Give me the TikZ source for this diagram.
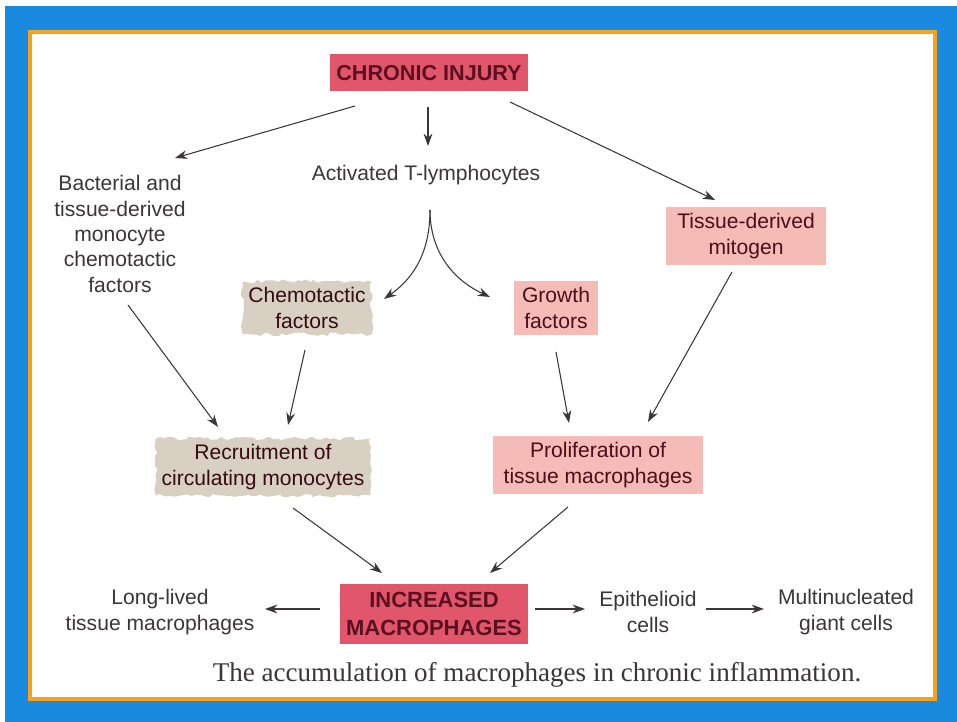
\documentclass[tikz,border=0pt]{standalone}
\usepackage{fontspec}
\setmainfont{Liberation Sans}
\newfontfamily\captionserif{Liberation Serif}
\usetikzlibrary{arrows.meta,decorations.pathmorphing}

% colours of the scan
\definecolor{frameblue}{HTML}{1A8AE0}
\definecolor{frameorange}{HTML}{F7A21B}
\definecolor{injuryred}{HTML}{E2566C}
\definecolor{softpink}{HTML}{F5BBB6}
\definecolor{ragbeige}{HTML}{D8D0C2}
\definecolor{inkgray}{HTML}{3C3636}
\definecolor{inkred}{HTML}{5A1020}

\tikzset{
  plain/.style={text=inkgray, align=center, inner sep=0pt,
    font=\fontsize{12}{14.4}\selectfont},
  redbox/.style={fill=injuryred, text=inkred, align=center,
    font=\bfseries\fontsize{12.3}{16}\selectfont},
  pinkbox/.style={fill=softpink, text=inkred!85!black, align=center,
    font=\fontsize{12}{14.6}\selectfont},
  ragbox/.style={fill=ragbeige, text=inkred!60!black, align=center,
    font=\fontsize{12}{14.6}\selectfont,
    decorate, decoration={random steps, segment length=2.5pt, amplitude=1.1pt}},
  link/.style={draw=inkgray, line width=0.6pt, -{Stealth[length=7pt,width=5pt]}},
}

\begin{document}
\begin{tikzpicture}[x={(0.02cm,0)}, y={(0,-0.02cm)}]

    % Frame: white margin, blue border, orange rule
    \useasboundingbox (0,0) rectangle (957,722);
    \fill[white] (0,0) rectangle (957,722);
    \fill[frameblue] (5,6) rectangle (957,722);
    \draw[frameorange, fill=white, line width=0.08cm] (30,32) rectangle (935,699);

    % Top row
    \node[redbox, minimum width=3.96cm, minimum height=0.74cm] (injury) at (429,73) {CHRONIC INJURY};
    \node[plain] (tcell) at (426,175) {Activated T-lymphocytes};
    \node[plain] (bact) at (120,234) {Bacterial and\\tissue-derived\\monocyte\\chemotactic\\factors};
    \node[pinkbox, minimum width=3.2cm, minimum height=1.08cm] (mitogen) at (746,236) {Tissue-derived\\mitogen};

    % Factors released by the T-cells
    \node[ragbox, minimum width=2.58cm, minimum height=1.02cm] (chemo) at (307,308) {Chemotactic\\factors};
    \node[pinkbox, minimum width=1.68cm, minimum height=1.1cm] (growth) at (556,308) {Growth\\factors};

    % Middle row
    \node[ragbox, minimum width=4.2cm, minimum height=1.08cm] (recruit) at (263,467) {Recruitment of\\circulating monocytes};
    \node[pinkbox, minimum width=4.2cm, minimum height=1.12cm] (prolif) at (598,465) {Proliferation of\\tissue macrophages};

    % Bottom row
    \node[redbox, minimum width=3.68cm, minimum height=1.2cm, font=\bfseries\fontsize{12.5}{16}\selectfont] (increased) at (434,614) {INCREASED\\MACROPHAGES};
    \node[plain] (longlived) at (160,612) {Long-lived\\tissue macrophages};
    \node[plain] (epith) at (648,612) {Epithelioid\\cells};
    \node[plain] (multi) at (846,612) {Multinucleated\\giant cells};

    % Caption
    \node[text=inkgray, font=\captionserif\fontsize{15.4}{18}\selectfont] (caption) at (537,675)
      {The accumulation of macrophages in chronic inflammation.};

    % Arrows from the injury
    \draw[link] ([shift={(-74,33)}]injury.center) -- ([shift={(55,-76)}]bact.center);
    \draw[link] ([shift={(-1,34)}]injury.center) -- ([shift={(2,-29)}]tcell.center);
    \draw[link] ([shift={(81,29)}]injury.center) -- ([shift={(-31,-36)}]mitogen.center);

    % T-cells split into two factors
    \coordinate (split) at ([shift={(4,35)}]tcell.center);
    \draw[link] (split) to[out=-90, in=35] ([shift={(77,-9)}]chemo.center);
    \draw[link] (split) to[out=-90, in=155] ([shift={(-66,-11)}]growth.center);

    % Down to recruitment and proliferation
    \draw[link] ([shift={(8,71)}]bact.center) -- ([shift={(-45,-40)}]recruit.center);
    \draw[link] ([shift={(-2,42)}]chemo.center) -- ([shift={(25,-42)}]recruit.center);
    \draw[link] ([shift={(0,44)}]growth.center) -- ([shift={(-29,-42)}]prolif.center);
    \draw[link] ([shift={(-14,36)}]mitogen.center) -- ([shift={(50,-43)}]prolif.center);

    % Into the macrophage pool
    \draw[link] ([shift={(30,41)}]recruit.center) -- ([shift={(-52,-41)}]increased.center);
    \draw[link] ([shift={(-30,42)}]prolif.center) -- ([shift={(56,-41)}]increased.center);

    % Fates of the macrophages
    \draw[link] ([shift={(-114,-5)}]increased.center) -- ([shift={(105,-3)}]longlived.center);
    \draw[link] ([shift={(101,-5)}]increased.center) -- ([shift={(-63,-3)}]epith.center);
    \draw[link] ([shift={(58,-3)}]epith.center) -- ([shift={(-82,-3)}]multi.center);

\end{tikzpicture}
\end{document}
